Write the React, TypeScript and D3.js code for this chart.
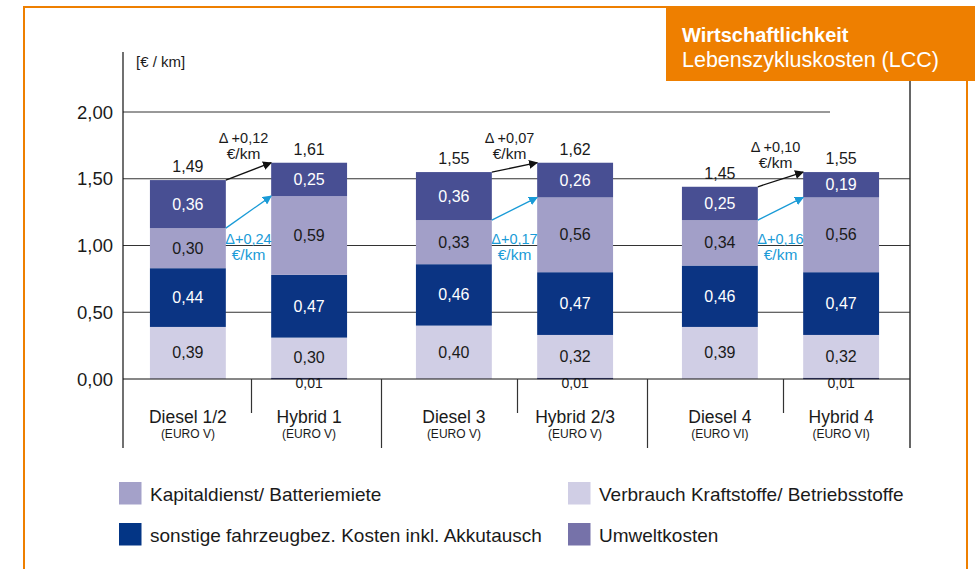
import { useRef, useEffect } from "react";
import * as d3 from "d3";

const categories = ["Diesel 1/2", "Hybrid 1", "Diesel 3", "Hybrid 2/3", "Diesel 4", "Hybrid 4"];
const euroNorms = ["(EURO V)", "(EURO V)", "(EURO V)", "(EURO V)", "(EURO VI)", "(EURO VI)"];
const groups = ["G1", "G2", "G3"];

// stacked segments, bottom to top
const strom = [0, 0.01, 0, 0.01, 0, 0.01];
const verbrauch = [0.39, 0.3, 0.4, 0.32, 0.39, 0.32];
const sonstige = [0.44, 0.47, 0.46, 0.47, 0.46, 0.47];
const kapital = [0.3, 0.59, 0.33, 0.56, 0.34, 0.56];
const umwelt = [0.36, 0.25, 0.36, 0.26, 0.25, 0.19];
const totals = ["1,49", "1,61", "1,55", "1,62", "1,45", "1,55"];

const deltaTotal = ["+0,12", "+0,07", "+0,10"];
const deltaKapital = ["+0,24", "+0,17", "+0,16"];

const yTicks = [0, 0.5, 1, 1.5, 2];

const legendItems = [
    { label: "Kapitaldienst/ Batteriemiete", color: "#a4a1c9" },
    { label: "Verbrauch Kraftstoffe/ Betriebsstoffe", color: "#d0cee5" },
    { label: "sonstige fahrzeugbez. Kosten inkl. Akkutausch", color: "#033585" },
    { label: "Umweltkosten", color: "#7672a9" },
];

const keys = ["strom", "verbrauch", "sonstige", "kapital", "umwelt"];
const segColors: Record<string, string> = {
    strom: "#3a4185",
    verbrauch: "#d0cee5",
    sonstige: "#0b3483",
    kapital: "#a29fc8",
    umwelt: "#484f93",
};
const labelColors: Record<string, string> = {
    verbrauch: "#1a1a1a",
    sonstige: "#ffffff",
    kapital: "#1a1a1a",
    umwelt: "#ffffff",
};

const ORANGE = "#ee7f00";
const BLUE = "#1a9bd7";
const FONT = "'Liberation Sans', Arial, sans-serif";

const fmt = (v: number) => v.toFixed(2).replace(".", ",");

const App: React.FC = () => {
    const svgRef = useRef<SVGSVGElement | null>(null);

    useEffect(() => {
        if (!svgRef.current) return;
        const width = 975;
        const height = 569;

        const svg = d3.select(svgRef.current);
        svg.selectAll("*").remove();
        svg.attr("width", width).attr("height", height).style("font-family", FONT);

        const rows = categories.map((c, i) => ({
            cat: c,
            strom: strom[i],
            verbrauch: verbrauch[i],
            sonstige: sonstige[i],
            kapital: kapital[i],
            umwelt: umwelt[i],
        }));
        const series = d3.stack<any>().keys(keys)(rows);

        const y = d3.scaleLinear().domain([0, 2]).range([379, 112]);
        const xGroup = d3.scaleBand<string>().domain(groups).range([115.5, 913.5]);
        const xInner = d3
            .scaleBand<number>()
            .domain([0, 1])
            .range([0, xGroup.bandwidth()])
            .paddingInner(0.374)
            .paddingOuter(0.284);
        const barX = (i: number) => (xGroup(groups[Math.floor(i / 2)]) ?? 0) + (xInner(i % 2) ?? 0);
        const bw = xInner.bandwidth();

        // frame
        const defs = svg.append("defs");
        const mk = (id: string, col: string) =>
            defs
                .append("marker")
                .attr("id", id)
                .attr("viewBox", "0 0 10 10")
                .attr("refX", 9)
                .attr("refY", 5)
                .attr("markerWidth", 9)
                .attr("markerHeight", 9)
                .attr("markerUnits", "userSpaceOnUse")
                .attr("orient", "auto")
                .append("path")
                .attr("d", "M0,0 L10,5 L0,10 z")
                .attr("fill", col);
        mk("arrBlack", "#111");
        mk("arrBlue", BLUE);

        svg.append("path")
            .attr("d", "M24,569 L24,7 L668,7")
            .attr("fill", "none")
            .attr("stroke", ORANGE)
            .attr("stroke-width", 2);
        svg.append("line")
            .attr("x1", 967).attr("x2", 967).attr("y1", 80).attr("y2", 569)
            .attr("stroke", ORANGE).attr("stroke-width", 2);
        svg.append("rect")
            .attr("x", 666).attr("y", 6).attr("width", 309).attr("height", 75)
            .attr("fill", ORANGE);
        svg.append("text")
            .attr("x", 682).attr("y", 42)
            .attr("fill", "#fff").attr("font-size", 20).attr("font-weight", "bold")
            .text("Wirtschaftlichkeit");
        svg.append("text")
            .attr("x", 682).attr("y", 67)
            .attr("fill", "#fff").attr("font-size", 21.5)
            .text("Lebenszykluskosten (LCC)");

        // grid
        svg.append("g")
            .selectAll("line")
            .data(yTicks.filter((t) => t > 0))
            .join("line")
            .attr("x1", 123)
            .attr("x2", (d) => (d === 2 ? 830 : 910))
            .attr("y1", (d) => y(d))
            .attr("y2", (d) => y(d))
            .attr("stroke", "#333")
            .attr("stroke-width", 1);

        svg.append("g")
            .selectAll("text")
            .data(yTicks)
            .join("text")
            .attr("x", 113)
            .attr("y", (d) => y(d) + 6.5)
            .attr("text-anchor", "end")
            .attr("font-size", 18.5)
            .attr("fill", "#1a1a1a")
            .text(fmt);

        svg.append("text")
            .attr("x", 136).attr("y", 67)
            .attr("font-size", 15).attr("fill", "#1a1a1a")
            .text("[€ / km]");

        // bars
        const barG = svg.append("g");
        series.forEach((s) => {
            barG.append("g")
                .attr("fill", segColors[s.key])
                .selectAll("rect")
                .data(s.map((d, i) => ({ d, i })).filter((o) => o.d[1] - o.d[0] > 0))
                .join("rect")
                .attr("x", (o) => barX(o.i))
                .attr("width", bw)
                .attr("y", (o) => y(o.d[1]))
                .attr("height", (o) => Math.max(1.5, y(o.d[0]) - y(o.d[1])));
        });

        // segment labels
        series.forEach((s) => {
            barG.append("g")
                .selectAll("text")
                .data(s.map((d, i) => ({ d, i })).filter((o) => o.d[1] - o.d[0] > 0))
                .join("text")
                .attr("x", (o) => barX(o.i) + bw / 2)
                .attr("y", (o) =>
                    s.key === "strom" ? y(0) + 8.5 : (y(o.d[0]) + y(o.d[1])) / 2 + 5.5,
                )
                .attr("text-anchor", "middle")
                .attr("font-size", s.key === "strom" ? 14 : 16)
                .attr("fill", labelColors[s.key] ?? "#1a1a1a")
                .text((o) => fmt(o.d[1] - o.d[0]));
        });

        const topVal = (i: number) => series[series.length - 1][i][1];
        const kapTop = (i: number) => series[3][i][1];

        svg.append("g")
            .selectAll("text")
            .data(totals)
            .join("text")
            .attr("x", (_d, i) => barX(i) + bw / 2)
            .attr("y", (_d, i) => y(topVal(i)) - 8)
            .attr("text-anchor", "middle")
            .attr("font-size", 16)
            .attr("fill", "#1a1a1a")
            .text((d) => d);

        // axes
        svg.append("line")
            .attr("x1", 123).attr("x2", 123).attr("y1", 52).attr("y2", 448)
            .attr("stroke", "#111").attr("stroke-width", 1.2);
        svg.append("line")
            .attr("x1", 123).attr("x2", 910).attr("y1", y(0)).attr("y2", y(0))
            .attr("stroke", "#111").attr("stroke-width", 1.2);
        svg.append("line")
            .attr("x1", 910).attr("x2", 910).attr("y1", 81).attr("y2", 448)
            .attr("stroke", "#333").attr("stroke-width", 1.5);

        groups.forEach((g, gi) => {
            const gx = xGroup(g) ?? 0;
            svg.append("line")
                .attr("x1", gx + xGroup.bandwidth() / 2 + 3)
                .attr("x2", gx + xGroup.bandwidth() / 2 + 3)
                .attr("y1", y(0)).attr("y2", 413)
                .attr("stroke", "#333").attr("stroke-width", 1.2);
            if (gi > 0) {
                svg.append("line")
                    .attr("x1", gx).attr("x2", gx)
                    .attr("y1", y(0)).attr("y2", 448)
                    .attr("stroke", "#333").attr("stroke-width", 1.2);
            }

            const d = gi * 2;
            const h = gi * 2 + 1;
            const x1 = barX(d) + bw;
            const x2 = barX(h);
            const mid = (x1 + x2) / 2;

            // black delta arrow (total)
            svg.append("line")
                .attr("x1", x1).attr("y1", y(topVal(d)))
                .attr("x2", x2).attr("y2", y(topVal(h)))
                .attr("stroke", "#111").attr("stroke-width", 1.3)
                .attr("marker-end", "url(#arrBlack)");
            svg.append("text")
                .attr("x", mid - 5).attr("y", y(topVal(h)) - 20)
                .attr("text-anchor", "middle").attr("font-size", 14.5).attr("fill", "#1a1a1a")
                .text(`Δ ${deltaTotal[gi]}`);
            svg.append("text")
                .attr("x", mid - 5).attr("y", y(topVal(h)) - 4)
                .attr("text-anchor", "middle").attr("font-size", 15.5).attr("fill", "#1a1a1a")
                .text("€/km");

            // blue delta arrow (Kapitaldienst)
            svg.append("line")
                .attr("x1", x1).attr("y1", y(kapTop(d)))
                .attr("x2", x2).attr("y2", y(kapTop(h)))
                .attr("stroke", BLUE).attr("stroke-width", 1.3)
                .attr("marker-end", "url(#arrBlue)");
            svg.append("text")
                .attr("x", mid).attr("y", y(1.01))
                .attr("text-anchor", "middle").attr("font-size", 14.5).attr("fill", BLUE)
                .text(`Δ${deltaKapital[gi]}`);
            svg.append("text")
                .attr("x", mid).attr("y", y(0.89))
                .attr("text-anchor", "middle").attr("font-size", 15.5).attr("fill", BLUE)
                .text("€/km");
        });

        // category labels
        const catG = svg.append("g").attr("text-anchor", "middle").attr("fill", "#1a1a1a");
        catG.selectAll("text.cat")
            .data(categories)
            .join("text")
            .attr("class", "cat")
            .attr("x", (_d, i) => barX(i) + bw / 2)
            .attr("y", 423)
            .attr("font-size", 17.5)
            .text((d) => d);
        catG.selectAll("text.norm")
            .data(euroNorms)
            .join("text")
            .attr("class", "norm")
            .attr("x", (_d, i) => barX(i) + bw / 2)
            .attr("y", 438)
            .attr("font-size", 12)
            .text((d) => d);

        // legend
        const leg = svg
            .append("g")
            .selectAll("g")
            .data(legendItems)
            .join("g")
            .attr("transform", (_d, i) => `translate(${i % 2 === 0 ? 119 : 568},${i < 2 ? 482 : 523})`);
        leg.append("rect").attr("width", 22.5).attr("height", 22.5).attr("fill", (d) => d.color);
        leg.append("text")
            .attr("x", 31)
            .attr("y", 18.5)
            .attr("font-size", 19)
            .attr("fill", "#1a1a1a")
            .text((d) => d.label);
    }, []);

    return <svg ref={svgRef} style={{ position: "absolute", left: 0, top: 0 }} />;
};

export default App;
